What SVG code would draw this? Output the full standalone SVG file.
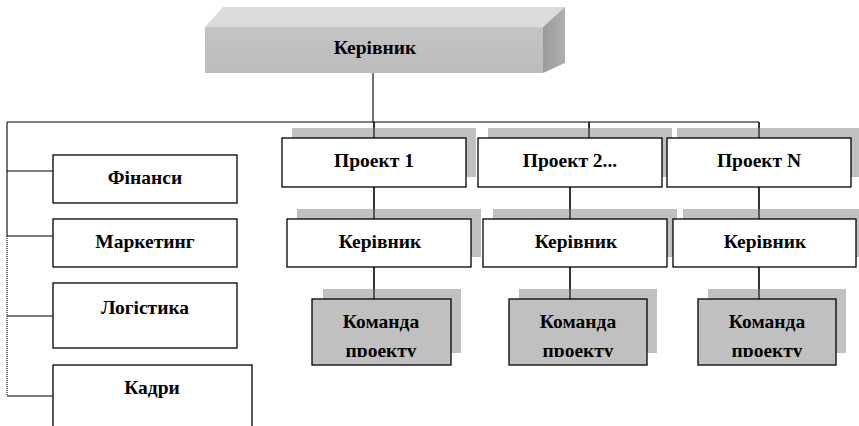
<svg xmlns="http://www.w3.org/2000/svg" width="859" height="426" viewBox="0 0 859 426">
<style>
.box{fill:#fff;stroke:#000;stroke-width:1.3}
.gbox{fill:#c0c0c0;stroke:#000;stroke-width:1.3}
.sh{fill:#c0c0c0}
.t{font-family:"Liberation Serif","Times New Roman",serif;font-weight:bold;font-size:19.5px;fill:#000;text-anchor:middle}
.ln{stroke:#000;stroke-width:1.1;fill:none}
.dot{stroke:#000;stroke-width:1.1;fill:none;stroke-dasharray:1 1}
</style>
<defs>
<linearGradient id="side" x1="0" y1="0" x2="1" y2="0">
<stop offset="0" stop-color="#9a9a9a"/><stop offset="1" stop-color="#b0b0b0"/>
</linearGradient>
<linearGradient id="front" x1="0" y1="0" x2="0" y2="1">
<stop offset="0" stop-color="#c4c4c4"/><stop offset="1" stop-color="#bcbcbc"/>
</linearGradient>
<clipPath id="c1"><rect x="312" y="299" width="139" height="58"/></clipPath>
<clipPath id="c2"><rect x="509" y="299" width="138" height="58"/></clipPath>
<clipPath id="c3"><rect x="698" y="299" width="138" height="58"/></clipPath>
</defs>
<g id="connectors">
<line class="ln" x1="373" y1="73" x2="373" y2="122"/>
<line class="ln" x1="7" y1="122" x2="759" y2="122"/>
<line class="ln" x1="7" y1="122" x2="7" y2="236"/>
<line class="dot" x1="7" y1="236" x2="7" y2="396"/>
<line class="ln" x1="7" y1="171" x2="53" y2="171"/>
<line class="ln" x1="7" y1="236" x2="53" y2="236"/>
<line class="ln" x1="7" y1="316" x2="53" y2="316"/>
<line class="ln" x1="7" y1="396" x2="53" y2="396"/>
<line class="ln" x1="374" y1="122" x2="374" y2="138"/>
<line class="ln" x1="589" y1="122" x2="589" y2="138"/>
<line class="ln" x1="759" y1="122" x2="759" y2="138"/>
<line class="ln" x1="374" y1="187" x2="374" y2="219"/>
<line class="ln" x1="570" y1="187" x2="570" y2="219"/>
<line class="ln" x1="759" y1="187" x2="759" y2="219"/>
<line class="ln" x1="374" y1="267" x2="374" y2="299"/>
<line class="ln" x1="570" y1="267" x2="570" y2="299"/>
<line class="ln" x1="759" y1="267" x2="759" y2="299"/>
</g>
<g id="head">
<polygon points="205,27 223,7 565,7 543,27" fill="#dcdcdc"/>
<polygon points="543,27 565,7 565,63 543,73" fill="url(#side)"/>
<rect x="205" y="27" width="338" height="46" fill="url(#front)"/>
<text class="t" x="375" y="54">Керівник</text>
</g>
<g id="finance">
<rect class="box" x="53" y="155" width="184" height="48"/>
<text class="t" x="145" y="184">Фінанси</text>
</g>
<g id="marketing">
<rect class="box" x="53" y="219" width="184" height="48"/>
<text class="t" x="145" y="248">Маркетинг</text>
</g>
<g id="logistics">
<rect class="box" x="53" y="283" width="184" height="65"/>
<text class="t" x="145" y="314">Логістика</text>
</g>
<g id="hr">
<rect class="box" x="53" y="365" width="199" height="70"/>
<text class="t" x="152" y="394">Кадри</text>
</g>
<g id="project1">
<rect class="sh" x="292" y="128" width="184" height="49"/>
<line class="ln" x1="374" y1="122" x2="374" y2="138"/>
<rect class="box" x="282" y="138" width="184" height="49"/>
<text class="t" x="374" y="167">Проект 1</text>
</g>
<g id="project2">
<rect class="sh" x="488" y="128" width="184" height="49"/>
<line class="ln" x1="589" y1="122" x2="589" y2="138"/>
<rect class="box" x="478" y="138" width="184" height="49"/>
<text class="t" x="570" y="167">Проект 2...</text>
</g>
<g id="projectN">
<rect class="sh" x="677" y="128" width="184" height="49"/>
<line class="ln" x1="759" y1="122" x2="759" y2="138"/>
<rect class="box" x="667" y="138" width="184" height="49"/>
<text class="t" x="759" y="167">Проект N</text>
</g>
<g id="lead1">
<rect class="sh" x="297" y="209" width="184" height="48"/>
<line class="ln" x1="374" y1="187" x2="374" y2="219"/>
<rect class="box" x="287" y="219" width="184" height="48"/>
<text class="t" x="380" y="248">Керівник</text>
</g>
<g id="lead2">
<rect class="sh" x="493" y="209" width="184" height="48"/>
<line class="ln" x1="570" y1="187" x2="570" y2="219"/>
<rect class="box" x="483" y="219" width="184" height="48"/>
<text class="t" x="576" y="248">Керівник</text>
</g>
<g id="lead3">
<rect class="sh" x="683" y="209" width="176" height="48"/>
<line class="ln" x1="759" y1="187" x2="759" y2="219"/>
<rect class="box" x="673" y="219" width="183" height="48"/>
<text class="t" x="765" y="248">Керівник</text>
</g>
<g id="team1">
<rect class="sh" x="323" y="289" width="138" height="64"/>
<line class="ln" x1="374" y1="267" x2="374" y2="299"/>
<rect class="gbox" x="312" y="299" width="139" height="66"/>
<g clip-path="url(#c1)"><text class="t" x="381" y="328">Команда</text><text class="t" x="381" y="357">проекту</text></g>
</g>
<g id="team2">
<rect class="sh" x="519" y="289" width="138" height="64"/>
<line class="ln" x1="570" y1="267" x2="570" y2="299"/>
<rect class="gbox" x="509" y="299" width="138" height="66"/>
<g clip-path="url(#c2)"><text class="t" x="578" y="328">Команда</text><text class="t" x="578" y="357">проекту</text></g>
</g>
<g id="team3">
<rect class="sh" x="708" y="289" width="138" height="64"/>
<line class="ln" x1="759" y1="267" x2="759" y2="299"/>
<rect class="gbox" x="698" y="299" width="138" height="66"/>
<g clip-path="url(#c3)"><text class="t" x="767" y="328">Команда</text><text class="t" x="767" y="357">проекту</text></g>
</g>
</svg>
